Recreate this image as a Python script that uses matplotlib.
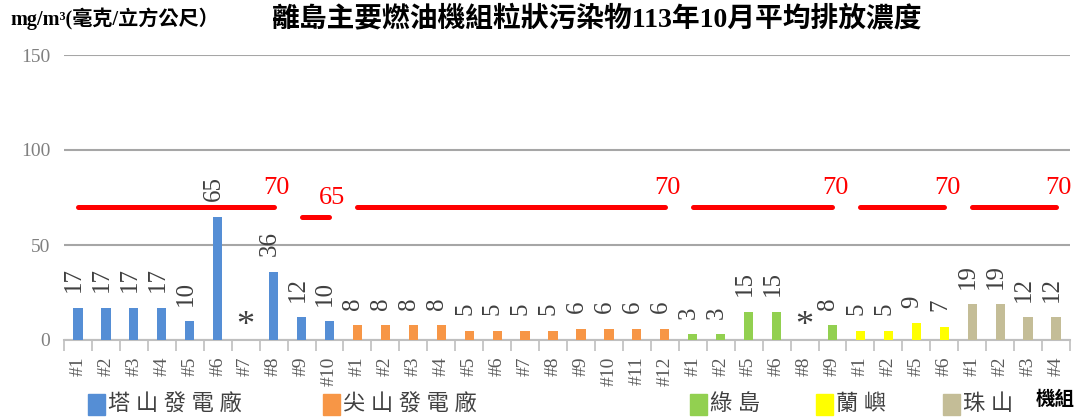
import numpy as np
import matplotlib.pyplot as plt
from matplotlib.patches import Rectangle

plt.rcParams['font.family'] = ['Liberation Serif', 'Noto Sans CJK TC', 'DejaVu Sans']

# ─ DATA ─
plants = ["塔山發電廠", "尖山發電廠", "綠島", "蘭嶼", "珠山"]
colors = ["#558ED5", "#F79646", "#92D050", "#FFFF00", "#C4BD97"]

tashan_units = ["#1", "#2", "#3", "#4", "#5", "#6", "#7", "#8", "#9", "#10"]
tashan_vals = [17, 17, 17, 17, 10, 65, np.nan, 36, 12, 10]

jianshan_units = ["#1", "#2", "#3", "#4", "#5", "#6", "#7", "#8", "#9", "#10", "#11", "#12"]
jianshan_vals = [8, 8, 8, 8, 5, 5, 5, 5, 6, 6, 6, 6]

ludao_units = ["#1", "#2", "#5", "#6", "#8", "#9"]
ludao_vals = [3, 3, 15, 15, np.nan, 8]

lanyu_units = ["#1", "#2", "#5", "#6"]
lanyu_vals = [5, 5, 9, 7]

zhushan_units = ["#1", "#2", "#3", "#4"]
zhushan_vals = [19, 19, 12, 12]

# limit segments: (first unit index, last unit index, limit) over the whole category list
limits = [(0, 7, 70), (8, 9, 65), (10, 21, 70), (22, 27, 70), (28, 31, 70), (32, 35, 70)]

groups = [tashan_units, jianshan_units, ludao_units, lanyu_units, zhushan_units]
group_vals = [tashan_vals, jianshan_vals, ludao_vals, lanyu_vals, zhushan_vals]

labels, values, bar_colors = [], [], []
for units, vals, c in zip(groups, group_vals, colors):
    labels += units
    values += vals
    bar_colors += [c] * len(units)
values = np.array(values, dtype=float)
x = np.arange(len(labels))

# ─ FIGURE ─
fig = plt.figure(figsize=(10.83, 4.2), dpi=100)
ax = fig.add_axes([64 / 1083, 80 / 420, (1070 - 64) / 1083, 285 / 420])

ax.bar(x, np.nan_to_num(values), width=0.33, color=bar_colors, zorder=3)
ax.set_xlim(-0.5, len(labels) - 0.5)
ax.set_ylim(0, 150)
ax.set_yticks([0, 50, 100, 150])
ax.yaxis.grid(True, color="#A6A6A6", linewidth=1.5, zorder=0)
ax.tick_params(axis="y", length=0, labelsize=14, labelcolor="#808080", pad=10)

ax.set_xticks(np.arange(-0.5, len(labels), 1), minor=False)
ax.set_xticklabels([])
ax.set_xticks(x, minor=True)
ax.set_xticklabels(labels, minor=True, rotation=90, fontsize=14, color="#595959")
ax.tick_params(axis="x", which="major", length=8, color="#BFBFBF", width=1.2)
ax.tick_params(axis="x", which="minor", length=0, pad=12)

for s in ["top", "right", "left"]:
    ax.spines[s].set_visible(False)
ax.spines["bottom"].set_color("#BFBFBF")
ax.spines["bottom"].set_linewidth(1.5)

# value labels
for xi, v in zip(x, values):
    if np.isnan(v):
        ax.text(xi, 7, "*", ha="center", va="center", fontsize=26, color="#404040")
    else:
        ax.annotate(f"{v:.0f}", (xi, v), xytext=(-3, 11), textcoords="offset points",
                    ha="center", va="bottom", rotation=90, fontsize=18, color="#404040")

# limit lines
for i0, i1, lim in limits:
    ax.plot([x[i0], x[i1]], [lim, lim], color="#FF0000", linewidth=3.6,
            solid_capstyle="round", zorder=4)
    ax.text(x[i1] + 0.1, lim + 4, f"{lim}", ha="center", va="bottom",
            fontsize=19, color="#FF0000", zorder=5)

# titles
fig.text(10 / 1083, 1 - 19 / 420, "mg/m³(毫克/立方公尺）", ha="left", va="center",
         fontsize=14.5, fontweight="bold", color="#000000")
fig.text(597 / 1083, 1 - 19 / 420, "離島主要燃油機組粒狀污染物113年10月平均排放濃度",
         ha="center", va="center", fontsize=20, fontweight="bold", color="#000000")

# legend
legend_x = [88, 323, 690, 816, 943]
for lx, name, c in zip(legend_x, plants, colors):
    fig.patches.append(Rectangle((lx / 1083, 5 / 420), 17 / 1083, 21 / 420,
                                 transform=fig.transFigure, color=c))
    fig.text((lx + 20) / 1083, 15 / 420, " ".join(name), ha="left", va="center",
             fontsize=16, color="#404040")
fig.text(1055 / 1083, 20 / 420, "機組", ha="center", va="center",
         fontsize=14, fontweight="bold", color="#000000")

fig.savefig("out.png", dpi=100)
